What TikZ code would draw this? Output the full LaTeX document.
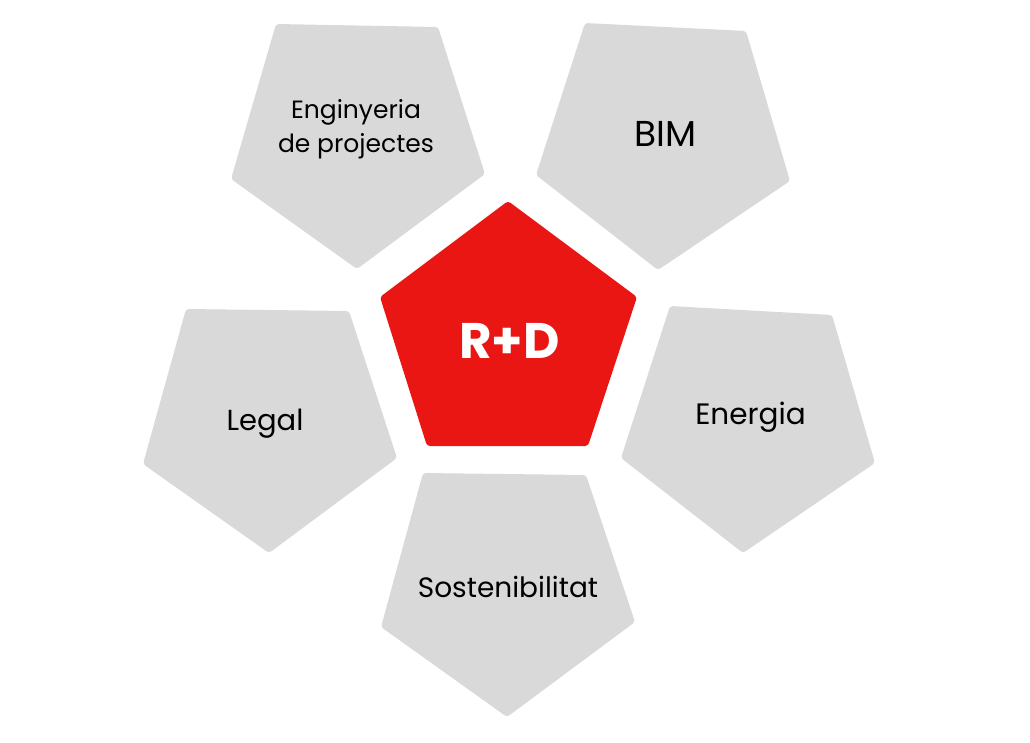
\documentclass[tikz,border=0pt]{standalone}
\usepackage{fontspec}
\setmainfont{Poppins}
\definecolor{myred}{RGB}{233,22,19}
\definecolor{mygrey}{RGB}{217,217,217}
\tikzset{
  greyface/.style={fill=mygrey, draw=none, rounded corners=3},
  redface/.style={fill=myred, draw=none, rounded corners=3},
  labelgrey/.style={inner sep=0, outer sep=0, text=black, align=center},
  labelred/.style={inner sep=0, outer sep=0, text=white, font=\fontsize{50}{56}\selectfont\bfseries}
}
\begin{document}
\begin{tikzpicture}[x=1pt,y=-1pt]

\useasboundingbox (0,0) rectangle (1030,742);

\path[greyface] (276,24) -- (438,27) -- (485,174) -- (357,269) -- (231,179) -- cycle;
\path[greyface] (585,23) -- (746,31) -- (790,181) -- (658,270) -- (536,175) -- cycle;
\path[greyface] (186,309) -- (349,311) -- (397,458) -- (269,553) -- (143,464) -- cycle;
\path[greyface] (670,306) -- (832,315) -- (875,463) -- (743,553) -- (621,458) -- cycle;
\path[greyface] (423,473) -- (586,475) -- (635,622) -- (507,717) -- (381,627) -- cycle;

\path[redface] (508,201) -- (637,297) -- (588,446) -- (427,446) -- (380,297) -- cycle;

\node [labelgrey, font=\fontsize{25}{34}\selectfont] (enginyeria) at (356,129.5) {Enginyeria\\de projectes};
\node [labelgrey, font=\fontsize{36}{40}\selectfont] (bim) at (665.5,134) {BIM};
\node [labelgrey, font=\fontsize{29}{34}\selectfont] (legal) at (265,424) {Legal};
\node [labelgrey, font=\fontsize{29.5}{34}\selectfont] (energia) at (750.5,417) {Energia};
\node [labelgrey, font=\fontsize{28}{34}\selectfont] (sostenibilitat) at (508,587) {Sostenibilitat};
\node [labelred] (rd) at (509.5,341) {R+D};

\end{tikzpicture}
\end{document}
